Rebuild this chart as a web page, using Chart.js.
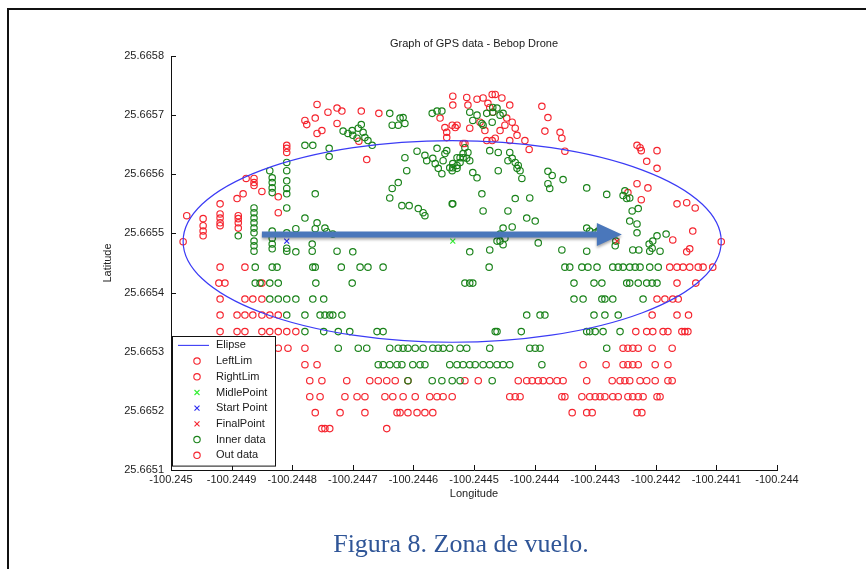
<!DOCTYPE html>
<html>
<head>
<meta charset="utf-8">
<script src="https://cdn.jsdelivr.net/npm/chart.js@4.4.0/dist/chart.umd.min.js"></script>
<style>
  html, body { margin: 0; padding: 0; background: #fff; }
  body { width: 866px; height: 569px; position: relative; overflow: hidden; }
  #frame { position: absolute; left: 7px; top: 8px; width: 900px; height: 600px;
           border-left: 2px solid #111; border-top: 2px solid #111; }
  #gps { position: absolute; left: 0; top: 0; }
  #caption { position: absolute; left: 200px; width: 522px; top: 531px; text-align: center;
             font: 26px/26px "Liberation Serif", "Times New Roman", serif; color: #2f5597; }
</style>
</head>
<body>
<div id="frame"></div>
<canvas id="gps" width="866" height="569"></canvas>
<div id="caption">Figura 8. Zona de vuelo.</div>
<script>
// Ejes (ticks)
const xTicks = [-100.245, -100.2449, -100.2448, -100.2447, -100.2446, -100.2445,
                -100.2444, -100.2443, -100.2442, -100.2441, -100.244];
const yTicks = [25.6651, 25.6652, 25.6653, 25.6654, 25.6655, 25.6656, 25.6657, 25.6658];
const chartTitle = 'Graph of GPS data - Bebop Drone';

// Elipse: centro [lon, lat] y semiejes [lon, lat]
const ellipseCenter = [-100.244536, 25.6654865];
const ellipseRadii = [0.000444, 0.0001705];

const leftLim = [[-100.244980, 25.665486]];
const rightLim = [[-100.244092, 25.665486]];
const midPoint = [[-100.244535, 25.665487]];
const startPoint = [[-100.244809, 25.665487]];
const finalPoint = [[-100.244264, 25.665487]];

// Flecha añadida sobre la figura (coordenadas de datos)
const arrowFrom = [-100.244850, 25.665498];
const arrowTo = [-100.244256, 25.665498];

// Puntos dentro de la elipse (zona superior, dispersos)
const innerScatter = [
  [-100.244779,25.665649],[-100.244766,25.665649],[-100.244739,25.665644],[-100.244739,25.665630],
  [-100.244716,25.665673],[-100.244708,25.665669],[-100.244701,25.665674],[-100.244700,25.665666],[-100.244691,25.665678],
  [-100.244686,25.665684],[-100.244683,25.665671],[-100.244680,25.665662],[-100.244675,25.665657],[-100.244668,25.665649],[-100.244693,25.665661],
  [-100.244639,25.665703],[-100.244635,25.665683],[-100.244622,25.665695],[-100.244617,25.665696],[-100.244614,25.665686],[-100.244625,25.665683],
  [-100.244569,25.665703],[-100.244561,25.665707],[-100.244553,25.665707],
  [-100.244594,25.665639],[-100.244581,25.665632],[-100.244578,25.665623],[-100.244568,25.665627],[-100.244564,25.665618],[-100.244561,25.665644],
  [-100.244559,25.665610],[-100.244553,25.665601],[-100.244551,25.665623],[-100.244548,25.665635],[-100.244545,25.665640],[-100.244540,25.665611],
  [-100.244536,25.665606],[-100.244535,25.665618],[-100.244528,25.665615],[-100.244523,25.665628],[-100.244518,25.665635],[-100.244512,25.665627],[-100.244515,25.665645],
  [-100.244614,25.665628],[-100.244611,25.665606],
  [-100.244639,25.665560],[-100.244635,25.665576],[-100.244625,25.665586],
  [-100.244619,25.665547],[-100.244607,25.665547],[-100.244592,25.665542],[-100.244584,25.665535],[-100.244581,25.665530],
  [-100.244535,25.665550],[-100.244762,25.665567],[-100.244779,25.665526],
  [-100.244759,25.665518],[-100.244762,25.665508],[-100.244746,25.665509],[-100.244743,25.665503],[-100.244733,25.665499],[-100.244726,25.665470],[-100.244700,25.665469],
  [-100.244837,25.665606],[-100.244833,25.665594],[-100.244833,25.665586],[-100.244833,25.665577],[-100.244833,25.665569],
  [-100.244809,25.665620],[-100.244809,25.665606],[-100.244809,25.665589],[-100.244809,25.665576],[-100.244809,25.665567],[-100.244809,25.665543],
  [-100.244863,25.665543],[-100.244863,25.665535],[-100.244863,25.665526],[-100.244863,25.665518],[-100.244863,25.665509],
  [-100.244863,25.665501],[-100.244863,25.665487],[-100.244863,25.665479],[-100.244863,25.665470],
  [-100.244889,25.665496],
  [-100.244833,25.665504],[-100.244833,25.665492],[-100.244833,25.665482],[-100.244833,25.665474],
  [-100.244809,25.665501],[-100.244809,25.665475],[-100.244809,25.665470],
  [-100.244794,25.665508],[-100.244794,25.665469],[-100.244767,25.665482],[-100.244767,25.665470],
  [-100.244507,25.665705],[-100.244502,25.665691],[-100.244495,25.665700],[-100.244487,25.665686],[-100.244479,25.665703],[-100.244470,25.665688],
  [-100.244469,25.665705],[-100.244457,25.665700],[-100.244462,25.665712],[-100.244452,25.665703],[-100.244469,25.665713],[-100.244485,25.665683],
  [-100.244528,25.665628],[-100.244523,25.665620],[-100.244518,25.665628],[-100.244510,25.665637],[-100.244507,25.665623],[-100.244535,25.665611],[-100.244528,25.665610],
  [-100.244474,25.665640],[-100.244460,25.665637],
  [-100.244441,25.665637],[-100.244437,25.665627],[-100.244444,25.665623],[-100.244432,25.665620],[-100.244429,25.665610],[-100.244424,25.665606],[-100.244427,25.665615],
  [-100.244502,25.665603],[-100.244495,25.665594],[-100.244460,25.665606],[-100.244421,25.665593],
  [-100.244378,25.665605],[-100.244371,25.665598],[-100.244353,25.665591],[-100.244378,25.665584],[-100.244375,25.665576],
  [-100.244314,25.665577],[-100.244281,25.665566],[-100.244487,25.665567],[-100.244432,25.665559],[-100.244408,25.665560],[-100.244536,25.665550],
  [-100.244485,25.665538],[-100.244444,25.665538],[-100.244413,25.665526],[-100.244399,25.665521],
  [-100.244452,25.665509],[-100.244437,25.665511],[-100.244457,25.665499],[-100.244457,25.665487],[-100.244449,25.665492],[-100.244462,25.665487],[-100.244452,25.665481],
  [-100.244474,25.665472],[-100.244507,25.665469],[-100.244394,25.665484],[-100.244355,25.665472],[-100.244314,25.665470],
  [-100.244314,25.665509],[-100.244309,25.665504],[-100.244300,25.665501],[-100.244295,25.665504],[-100.244281,25.665499],[-100.244266,25.665487],[-100.244267,25.665479],
  [-100.244254,25.665564],[-100.244248,25.665559],[-100.244243,25.665560],[-100.244251,25.665572],
  [-100.244239,25.665538],[-100.244229,25.665542],[-100.244243,25.665521],[-100.244231,25.665516],[-100.244231,25.665501],[-100.244238,25.665472],[-100.244228,25.665472],
  [-100.244211,25.665482],[-100.244205,25.665487],[-100.244198,25.665496],[-100.244206,25.665475],[-100.244193,25.665470],[-100.244183,25.665499],[-100.244210,25.665470]
];

// Puntos dentro de la elipse en filas (latitud cuantizada del GPS)
const innerRowLat = [25.665443, 25.665416, 25.665389, 25.665362, 25.665334, 25.665306, 25.665278, 25.665251];
const innerRowLon = [
  [-100.244861,-100.244833,-100.244825,-100.244766,-100.244762,-100.244719,-100.244688,-100.244675,-100.244650,-100.244475,-100.244350,-100.244342,
   -100.244322,-100.244312,-100.244297,-100.244271,-100.244262,-100.244254,-100.244243,-100.244234,-100.244226,-100.244210,-100.244196],
  [-100.244861,-100.244853,-100.244837,-100.244823,-100.244761,-100.244701,-100.244515,-100.244507,-100.244502,-100.244335,-100.244302,-100.244289,
   -100.244248,-100.244243,-100.244229,-100.244215,-100.244206,-100.244198],
  [-100.244837,-100.244823,-100.244809,-100.244794,-100.244766,-100.244748,-100.244335,-100.244320,-100.244289,-100.244284,-100.244271,-100.244221],
  [-100.244809,-100.244779,-100.244754,-100.244746,-100.244738,-100.244733,-100.244718,-100.244413,-100.244391,-100.244383,-100.244302,-100.244284,-100.244262],
  [-100.244779,-100.244748,-100.244724,-100.244705,-100.244660,-100.244650,-100.244465,-100.244462,-100.244422,-100.244314,-100.244309,-100.244300,-100.244287,-100.244259],
  [-100.244724,-100.244691,-100.244677,-100.244639,-100.244625,-100.244617,-100.244609,-100.244597,-100.244584,-100.244568,-100.244559,-100.244551,
   -100.244540,-100.244523,-100.244512,-100.244474,-100.244408,-100.244399,-100.244391,-100.244281],
  [-100.244658,-100.244650,-100.244639,-100.244627,-100.244619,-100.244601,-100.244589,-100.244581,-100.244540,-100.244528,-100.244518,-100.244507,
   -100.244498,-100.244485,-100.244474,-100.244462,-100.244452,-100.244441,-100.244388],
  [-100.244609,-100.244569,-100.244553,-100.244536,-100.244523,-100.244470]
];

// Puntos fuera de la elipse (dispersos)
const outScatter = [
  [-100.244759,25.665718],[-100.244726,25.665712],[-100.244718,25.665707],[-100.244741,25.665705],[-100.244686,25.665707],[-100.244657,25.665703],
  [-100.244779,25.665691],[-100.244776,25.665684],[-100.244762,25.665695],[-100.244726,25.665686],[-100.244751,25.665674],[-100.244759,25.665669],
  [-100.244809,25.665649],[-100.244809,25.665644],[-100.244809,25.665637],[-100.244677,25.665625],[-100.244690,25.665656],
  [-100.244876,25.665593],[-100.244863,25.665593],[-100.244863,25.665586],[-100.244863,25.665581],[-100.244881,25.665567],[-100.244850,25.665571],
  [-100.244823,25.665562],[-100.244891,25.665559],[-100.244919,25.665550],
  [-100.244919,25.665533],[-100.244919,25.665526],[-100.244919,25.665518],[-100.244919,25.665513],
  [-100.244947,25.665525],[-100.244947,25.665513],[-100.244947,25.665504],[-100.244947,25.665496],[-100.244974,25.665530],
  [-100.244889,25.665530],[-100.244889,25.665525],[-100.244889,25.665518],[-100.244889,25.665509],[-100.244823,25.665535],
  [-100.244556,25.665695],[-100.244548,25.665679],[-100.244545,25.665671],[-100.244545,25.665662],[-100.244535,25.665732],[-100.244535,25.665717],
  [-100.244512,25.665730],[-100.244510,25.665717],[-100.244528,25.665683],[-100.244536,25.665683],[-100.244518,25.665652],
  [-100.244495,25.665727],[-100.244485,25.665729],[-100.244470,25.665735],[-100.244465,25.665735],[-100.244454,25.665729],[-100.244477,25.665720],
  [-100.244474,25.665713],[-100.244469,25.665705],[-100.244441,25.665717],[-100.244388,25.665715],[-100.244378,25.665696],[-100.244383,25.665673],
  [-100.244358,25.665671],[-100.244355,25.665661],[-100.244350,25.665639],
  [-100.244531,25.665679],[-100.244507,25.665678],[-100.244490,25.665688],[-100.244482,25.665674],[-100.244465,25.665661],[-100.244457,25.665674],
  [-100.244449,25.665683],[-100.244446,25.665695],[-100.244437,25.665688],[-100.244432,25.665678],[-100.244429,25.665666],[-100.244441,25.665657],
  [-100.244479,25.665657],[-100.244470,25.665657],[-100.244515,25.665652],[-100.244416,25.665657],[-100.244409,25.665642],
  [-100.244231,25.665649],[-100.244226,25.665645],[-100.244224,25.665640],[-100.244198,25.665640],[-100.244215,25.665622],[-100.244198,25.665610],
  [-100.244231,25.665584],[-100.244213,25.665577],[-100.244246,25.665569],[-100.244224,25.665557],[-100.244165,25.665550],[-100.244149,25.665552],
  [-100.244135,25.665543],[-100.244139,25.665504],[-100.244172,25.665489],[-100.244149,25.665469],[-100.244144,25.665474]
];

// Puntos fuera de la elipse en filas
const outRowLat = [25.665443, 25.665416, 25.665389, 25.665362, 25.665334, 25.665306, 25.665278, 25.665251, 25.665224, 25.665197, 25.665170];
const outRowLon = [
  [-100.244919,-100.244878,-100.244177,-100.244165,-100.244155,-100.244144,-100.244130,-100.244122,-100.244106],
  [-100.244921,-100.244911,-100.244850,-100.244165,-100.244134],
  [-100.244919,-100.244878,-100.244865,-100.244850,-100.244198,-100.244185,-100.244172,-100.244163],
  [-100.244919,-100.244891,-100.244878,-100.244865,-100.244850,-100.244837,-100.244823,-100.244206,-100.244165,-100.244146],
  [-100.244919,-100.244891,-100.244878,-100.244850,-100.244837,-100.244823,-100.244809,-100.244794,-100.244233,-100.244215,-100.244205,-100.244188,
   -100.244180,-100.244157,-100.244152,-100.244147],
  [-100.244823,-100.244807,-100.244779,-100.244254,-100.244246,-100.244238,-100.244229,-100.244206,-100.244173],
  [-100.244779,-100.244759,-100.244320,-100.244282,-100.244254,-100.244246,-100.244238,-100.244229,-100.244201,-100.244180],
  [-100.244771,-100.244751,-100.244710,-100.244672,-100.244658,-100.244644,-100.244630,-100.244609,-100.244515,-100.244493,-100.244427,-100.244413,
   -100.244404,-100.244394,-100.244386,-100.244375,-100.244363,-100.244353,-100.244314,-100.244272,-100.244259,-100.244251,-100.244243,-100.244226,
   -100.244215,-100.244201,-100.244180,-100.244173],
  [-100.244771,-100.244754,-100.244713,-100.244693,-100.244680,-100.244647,-100.244634,-100.244617,-100.244597,-100.244573,-100.244561,-100.244551,
   -100.244536,-100.244441,-100.244432,-100.244424,-100.244355,-100.244350,-100.244322,-100.244309,-100.244300,-100.244292,-100.244284,-100.244271,
   -100.244262,-100.244246,-100.244238,-100.244229,-100.244221,-100.244198,-100.244193],
  [-100.244762,-100.244721,-100.244680,-100.244627,-100.244622,-100.244609,-100.244594,-100.244581,-100.244568,-100.244338,-100.244314,-100.244305,
   -100.244231,-100.244223],
  [-100.244751,-100.244746,-100.244738,-100.244644]
];

const RED = 'rgb(245,35,45)';
const GREEN = 'rgb(25,130,25)';
const FONT = '"Liberation Sans", Arial, sans-serif';

const toXY = p => ({ x: p[0], y: p[1] });
const rowsToXY = (lats, lons) => lats.flatMap((lat, i) => lons[i].map(lon => ({ x: lon, y: lat })));

function marker(label, data, color, style) {
  return {
    label, data: data.map(toXY),
    pointStyle: style, pointRadius: style === 'circle' ? 3.2 : 3.5,
    borderColor: color, backgroundColor: 'rgba(0,0,0,0)', pointBorderWidth: 1.15, showLine: false
  };
}

const datasets = [
  { label: 'Elipse', data: [], borderColor: '#3b3bf5', showLine: true, isEllipse: true },
  marker('LeftLim', leftLim, RED, 'circle'),
  marker('RightLim', rightLim, RED, 'circle'),
  marker('MidlePoint', midPoint, '#33ee33', 'crossRot'),
  marker('Start Point', startPoint, '#2a2af0', 'crossRot'),
  marker('FinalPoint', finalPoint, RED, 'crossRot'),
  { ...marker('Inner data', [], GREEN, 'circle'), data: innerScatter.map(toXY).concat(rowsToXY(innerRowLat, innerRowLon)) },
  { ...marker('Out data', [], RED, 'circle'), data: outScatter.map(toXY).concat(rowsToXY(outRowLat, outRowLon)) }
];

// Título centrado sobre el área de datos (como en MATLAB)
const areaTitle = {
  id: 'areaTitle',
  afterDraw(chart) {
    const { ctx, chartArea: ca } = chart;
    ctx.save();
    ctx.font = '11px ' + FONT;
    ctx.fillStyle = '#1a1a1a';
    ctx.textAlign = 'center';
    ctx.textBaseline = 'middle';
    ctx.fillText(chartTitle, (ca.left + ca.right) / 2, ca.top - 12);
    ctx.restore();
  }
};

// Ticks hacia dentro, estilo MATLAB
const inwardTicks = {
  id: 'inwardTicks',
  afterDatasetsDraw(chart) {
    const { ctx, chartArea: ca, scales: { x, y } } = chart;
    ctx.save();
    ctx.strokeStyle = '#111';
    ctx.lineWidth = 1;
    ctx.beginPath();
    xTicks.forEach(v => { const px = Math.round(x.getPixelForValue(v)) + 0.5; ctx.moveTo(px, ca.bottom); ctx.lineTo(px, ca.bottom - 5); });
    yTicks.forEach(v => { const py = Math.round(y.getPixelForValue(v)) + 0.5; ctx.moveTo(ca.left, py); ctx.lineTo(ca.left + 5, py); });
    ctx.stroke();
    ctx.restore();
  }
};

const ellipseLine = {
  id: 'ellipseLine',
  afterDatasetsDraw(chart) {
    const { ctx, scales: { x, y } } = chart;
    const cx = x.getPixelForValue(ellipseCenter[0]);
    const cy = y.getPixelForValue(ellipseCenter[1]);
    const rx = x.getPixelForValue(ellipseCenter[0] + ellipseRadii[0]) - cx;
    const ry = cy - y.getPixelForValue(ellipseCenter[1] + ellipseRadii[1]);
    ctx.save();
    ctx.strokeStyle = datasets[0].borderColor;
    ctx.lineWidth = 1.2;
    ctx.beginPath();
    ctx.ellipse(cx, cy, rx, ry, 0, 0, Math.PI * 2);
    ctx.stroke();
    ctx.restore();
  }
};

const arrowMark = {
  id: 'arrowMark',
  afterDatasetsDraw(chart) {
    const { ctx, scales: { x, y } } = chart;
    const x0 = x.getPixelForValue(arrowFrom[0]), x1 = x.getPixelForValue(arrowTo[0]);
    const yy = y.getPixelForValue(arrowFrom[1]);
    const head = 25, half = 11.5, shaft = 3;
    ctx.save();
    ctx.shadowColor = 'rgba(0,0,0,0.35)';
    ctx.shadowBlur = 3;
    ctx.shadowOffsetY = 2;
    ctx.fillStyle = '#4a77bb';
    ctx.beginPath();
    ctx.moveTo(x0, yy - shaft);
    ctx.lineTo(x1 - head, yy - shaft);
    ctx.lineTo(x1 - head, yy - half);
    ctx.lineTo(x1, yy);
    ctx.lineTo(x1 - head, yy + half);
    ctx.lineTo(x1 - head, yy + shaft);
    ctx.lineTo(x0, yy + shaft);
    ctx.closePath();
    ctx.fill();
    ctx.restore();
  }
};

// Leyenda dentro del área, abajo a la izquierda
const boxLegend = {
  id: 'boxLegend',
  afterDraw(chart) {
    const { ctx, chartArea: ca } = chart;
    const left = ca.left + 1, w = 103, rowH = 15.7, n = chart.data.datasets.length;
    const h = n * rowH + 4, top = ca.bottom - 4 - h;
    ctx.save();
    ctx.fillStyle = '#fff';
    ctx.fillRect(left, top, w, h);
    ctx.strokeStyle = '#111';
    ctx.lineWidth = 1;
    ctx.strokeRect(Math.round(left) + 0.5, Math.round(top) + 0.5, w, h);
    ctx.font = '11px ' + FONT;
    ctx.textBaseline = 'middle';
    ctx.fillStyle = '#1a1a1a';
    chart.data.datasets.forEach((ds, i) => {
      const cy = top + 9 + i * rowH, mx = left + 25;
      ctx.strokeStyle = ds.borderColor;
      ctx.lineWidth = 1.1;
      ctx.beginPath();
      if (ds.isEllipse) {
        ctx.moveTo(left + 6, cy); ctx.lineTo(left + 37, cy);
      } else if (ds.pointStyle === 'circle') {
        ctx.arc(mx, cy, 3.2, 0, Math.PI * 2);
      } else {
        ctx.moveTo(mx - 2.5, cy - 2.5); ctx.lineTo(mx + 2.5, cy + 2.5);
        ctx.moveTo(mx + 2.5, cy - 2.5); ctx.lineTo(mx - 2.5, cy + 2.5);
      }
      ctx.stroke();
      ctx.fillText(ds.label, left + 44, cy);
    });
    ctx.restore();
  }
};

new Chart(document.getElementById('gps'), {
  type: 'scatter',
  data: { datasets },
  options: {
    responsive: false,
    animation: false,
    devicePixelRatio: 1,
    layout: { padding: { left: 101, top: 56, right: 89, bottom: 68 } },
    plugins: {
      legend: { display: false },
      tooltip: { enabled: false },
      title: { display: false }
    },
    scales: {
      x: {
        type: 'linear', min: xTicks[0], max: xTicks[xTicks.length - 1],
        afterBuildTicks: s => { s.ticks = xTicks.map(v => ({ value: v })); },
        afterFit: s => { s.height = 31; },
        grid: { display: false, drawTicks: false },
        border: { display: true, color: '#111', width: 1 },
        ticks: { autoSkip: false, maxRotation: 0, padding: 3, color: '#222', font: { family: FONT, size: 11 },
                 callback: v => String(Number(v.toFixed(4))) },
        title: { display: true, text: 'Longitude', color: '#222', font: { family: FONT, size: 11 }, padding: 0 }
      },
      y: {
        type: 'linear', min: yTicks[0], max: yTicks[yTicks.length - 1],
        afterBuildTicks: s => { s.ticks = yTicks.map(v => ({ value: v })); },
        afterFit: s => { s.width = 70; },
        grid: { display: false, drawTicks: false },
        border: { display: true, color: '#111', width: 1 },
        ticks: { autoSkip: false, padding: 7, color: '#222', font: { family: FONT, size: 11 },
                 callback: v => String(Number(v.toFixed(4))) },
        title: { display: true, text: 'Latitude', color: '#222', font: { family: FONT, size: 11 }, padding: 0 }
      }
    }
  },
  plugins: [ellipseLine, inwardTicks, arrowMark, boxLegend, areaTitle]
});
</script>
</body>
</html>
